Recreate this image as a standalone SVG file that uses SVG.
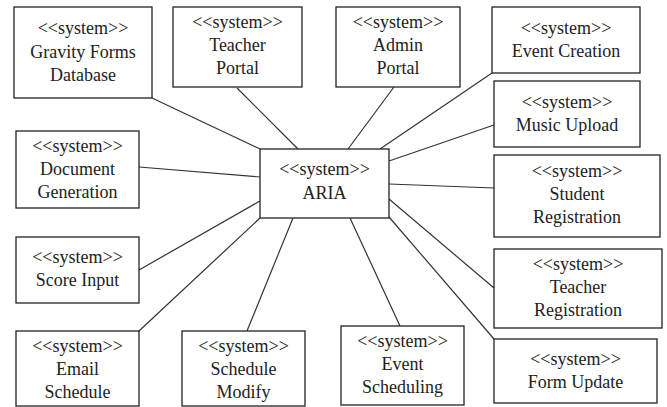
<svg xmlns="http://www.w3.org/2000/svg" width="667" height="407" viewBox="0 0 667 407" font-family="'Liberation Serif', 'Times New Roman', Times, 'DejaVu Serif', serif">
<style>
.box{fill:#fff;stroke:#222;stroke-width:1.3}
text{font-family:'Liberation Serif', Times, 'DejaVu Serif', serif;font-size:18px;fill:#222;text-anchor:middle}
.c line{stroke:#333;stroke-width:1.2}
</style>
<rect width="667" height="407" fill="#fff"/>
<g class="c" id="connectors">
<line x1="152" y1="98" x2="260" y2="149"/>
<line x1="237" y1="88" x2="298" y2="149"/>
<line x1="394" y1="87" x2="348" y2="149"/>
<line x1="492" y1="73" x2="380" y2="149"/>
<line x1="494" y1="125" x2="389" y2="161"/>
<line x1="389" y1="184" x2="494" y2="188"/>
<line x1="389" y1="199" x2="494" y2="288"/>
<line x1="389" y1="217" x2="494" y2="339"/>
<line x1="350" y1="218" x2="400" y2="326"/>
<line x1="293" y1="218" x2="247" y2="331"/>
<line x1="260" y1="218" x2="139" y2="331"/>
<line x1="260" y1="201" x2="139" y2="270"/>
<line x1="139" y1="167" x2="260" y2="177"/>
</g>
<g id="aria"><rect class="box" x="260" y="149" width="129" height="69"/><text x="324.5" y="175">&lt;&lt;system&gt;&gt;</text><text x="324.5" y="199">ARIA</text></g>
<g id="gravity"><rect class="box" x="14" y="7" width="138" height="91"/><text x="83" y="34">&lt;&lt;system&gt;&gt;</text><text x="83" y="58">Gravity Forms</text><text x="83" y="81">Database</text></g>
<g id="teacherPortal"><rect class="box" x="173" y="7" width="129" height="80"/><text x="237.5" y="28">&lt;&lt;system&gt;&gt;</text><text x="237.5" y="51">Teacher</text><text x="237.5" y="74">Portal</text></g>
<g id="adminPortal"><rect class="box" x="336" y="7" width="124" height="80"/><text x="398" y="28">&lt;&lt;system&gt;&gt;</text><text x="398" y="51">Admin</text><text x="398" y="74">Portal</text></g>
<g id="eventCreation"><rect class="box" x="492" y="7" width="148" height="66"/><text x="566" y="34">&lt;&lt;system&gt;&gt;</text><text x="566" y="57">Event Creation</text></g>
<g id="musicUpload"><rect class="box" x="494" y="81" width="146" height="66"/><text x="567" y="108">&lt;&lt;system&gt;&gt;</text><text x="567" y="131">Music Upload</text></g>
<g id="studentRegistration"><rect class="box" x="494" y="155" width="166" height="82"/><text x="577" y="177">&lt;&lt;system&gt;&gt;</text><text x="577" y="200">Student</text><text x="577" y="223">Registration</text></g>
<g id="teacherRegistration"><rect class="box" x="494" y="249" width="168" height="79"/><text x="578" y="270">&lt;&lt;system&gt;&gt;</text><text x="578" y="293">Teacher</text><text x="578" y="316">Registration</text></g>
<g id="formUpdate"><rect class="box" x="494" y="339" width="163" height="64"/><text x="575.5" y="365">&lt;&lt;system&gt;&gt;</text><text x="575.5" y="388">Form Update</text></g>
<g id="eventScheduling"><rect class="box" x="341" y="326" width="123" height="79"/><text x="402.5" y="347">&lt;&lt;system&gt;&gt;</text><text x="402.5" y="370">Event</text><text x="402.5" y="393">Scheduling</text></g>
<g id="scheduleModify"><rect class="box" x="182" y="331" width="123" height="75"/><text x="243.5" y="352">&lt;&lt;system&gt;&gt;</text><text x="243.5" y="375">Schedule</text><text x="243.5" y="398">Modify</text></g>
<g id="emailSchedule"><rect class="box" x="16" y="331" width="123" height="75"/><text x="77.5" y="352">&lt;&lt;system&gt;&gt;</text><text x="77.5" y="375">Email</text><text x="77.5" y="398">Schedule</text></g>
<g id="scoreInput"><rect class="box" x="16" y="237" width="123" height="66"/><text x="77.5" y="263">&lt;&lt;system&gt;&gt;</text><text x="77.5" y="286">Score Input</text></g>
<g id="documentGeneration"><rect class="box" x="16" y="131" width="123" height="77"/><text x="77.5" y="152">&lt;&lt;system&gt;&gt;</text><text x="77.5" y="175">Document</text><text x="77.5" y="198">Generation</text></g>
</svg>
